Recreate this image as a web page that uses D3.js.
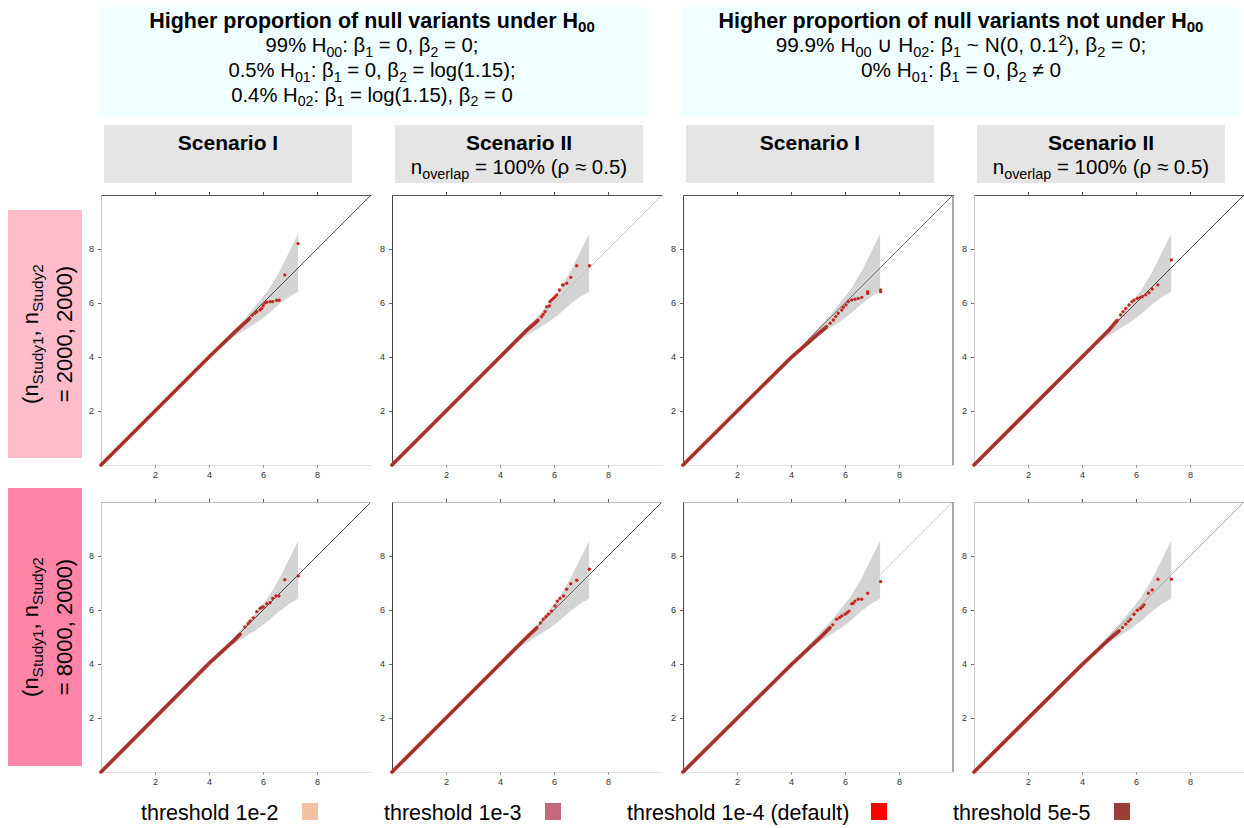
<!DOCTYPE html>
<html lang="en">
<head>
<meta charset="utf-8">
<title>QQ plots by threshold</title>
<script src="https://d3js.org/d3.v7.min.js"></script>
<style>
  body { margin: 0; background: #fff; }
  text { font-family: "Liberation Sans", Arial, Helvetica, sans-serif; }
</style>
</head>
<body>
<script>
// --- data ---------------------------------------------------------------
var tickValues = [2, 4, 6, 8];

// expected quantiles of the grey band, with its lower and upper limits
var bandExpected = [4.6, 5.0, 5.4, 5.8, 6.2, 6.6, 7.0, 7.3];
var bandLower    = [4.55, 4.8, 5.05, 5.3, 5.6, 5.95, 6.25, 6.42];
var bandUpper    = [4.65, 5.07, 5.5, 5.98, 6.48, 7.15, 7.95, 8.56];

// dense body of each QQ curve (expected, observed), row by row
var bulk = [
  [[0,0],[4,4],[5,4.97],[5.5,5.42]],
  [[0,0],[4,4],[5,5.0],[5.4,5.35]],
  [[0,0],[4,3.98],[5,4.85],[5.3,5.1]],
  [[0,0],[4,4],[5,5.0],[5.3,5.35]],
  [[0,0],[4,4.02],[4.9,4.85],[5.15,5.1]],
  [[0,0],[4,4],[5,5],[5.36,5.34]],
  [[0,0],[4,3.97],[5.07,4.97],[5.44,5.34]],
  [[0,0],[4,3.98],[5.0,4.91],[5.37,5.22]]
];

// sparse tail points of each QQ curve (expected, observed)
var tail = [
  [[5.6,5.55],[5.7,5.62],[5.77,5.68],[5.89,5.74],[5.95,5.8],[6.01,5.9],[6.07,6.0],[6.14,6.03],[6.26,6.05],[6.36,6.05],[6.5,6.1],[6.6,6.1],[6.81,7.04],[7.3,8.2]],
  [[5.54,5.49],[5.6,5.58],[5.67,5.68],[5.73,5.86],[5.83,5.89],[5.85,6.05],[5.91,6.11],[5.98,6.17],[6.04,6.23],[6.1,6.3],[6.2,6.48],[6.32,6.67],[6.34,6.67],[6.47,6.73],[6.62,6.95],[6.84,7.38],[7.31,7.38]],
  [[5.32,5.12],[5.45,5.25],[5.57,5.37],[5.66,5.5],[5.75,5.62],[5.88,5.74],[5.94,5.84],[6.04,5.93],[6.12,6.05],[6.25,6.11],[6.37,6.14],[6.49,6.17],[6.62,6.21],[6.84,6.36],[6.84,6.42],[7.32,6.42],[7.32,6.48]],
  [[5.43,5.56],[5.52,5.68],[5.62,5.8],[5.74,5.93],[5.85,6.05],[5.93,6.11],[6.05,6.17],[6.15,6.2],[6.23,6.23],[6.36,6.3],[6.48,6.38],[6.6,6.52],[6.81,6.67],[7.31,7.59]],
  [[5.33,5.37],[5.45,5.5],[5.52,5.59],[5.64,5.71],[5.77,5.94],[5.89,6.06],[5.95,6.1],[6.01,6.11],[6.14,6.23],[6.26,6.27],[6.36,6.43],[6.48,6.52],[6.59,6.52],[6.81,7.12],[7.31,7.26]],
  [[5.5,5.52],[5.6,5.66],[5.7,5.75],[5.79,5.84],[5.91,5.96],[6.04,6.15],[6.12,6.33],[6.22,6.43],[6.35,6.52],[6.47,6.77],[6.62,6.97],[6.84,7.1],[7.31,7.51]],
  [[5.55,5.45],[5.69,5.66],[5.8,5.72],[5.88,5.78],[6.0,5.84],[6.08,5.9],[6.15,5.96],[6.25,6.23],[6.3,6.25],[6.37,6.33],[6.49,6.4],[6.62,6.4],[6.84,6.62],[7.32,7.05]],
  [[5.5,5.35],[5.62,5.47],[5.72,5.58],[5.8,5.66],[5.93,5.84],[6.05,5.99],[6.17,6.06],[6.24,6.12],[6.3,6.19],[6.46,6.62],[6.6,6.74],[6.81,7.14],[7.31,7.14]]
];

var legendLabels = ["threshold 1e-2", "threshold 1e-3", "threshold 1e-4 (default)", "threshold 5e-5"];
var legendColors = ["#f0c2a2", "#c26a7b", "#ff0000", "#9b3f35"];

// rich text lines: [text, "" | "sub" | "sup"]
var headerLeft = [
  [["Higher proportion of null variants under H", ""], ["00", "sub"]],
  [["99% H", ""], ["00", "sub"], [": β", ""], ["1", "sub"], [" = 0, β", ""], ["2", "sub"], [" = 0;", ""]],
  [["0.5% H", ""], ["01", "sub"], [": β", ""], ["1", "sub"], [" = 0, β", ""], ["2", "sub"], [" = log(1.15);", ""]],
  [["0.4% H", ""], ["02", "sub"], [": β", ""], ["1", "sub"], [" = log(1.15), β", ""], ["2", "sub"], [" = 0", ""]]
];
var headerRight = [
  [["Higher proportion of null variants not under H", ""], ["00", "sub"]],
  [["99.9% H", ""], ["00", "sub"], [" ∪ H", ""], ["02", "sub"], [": β", ""], ["1", "sub"], [" ~ N(0, 0.1", ""], ["2", "sup"], ["), β", ""], ["2", "sub"], [" = 0;", ""]],
  [["0% H", ""], ["01", "sub"], [": β", ""], ["1", "sub"], [" = 0, β", ""], ["2", "sub"], [" ≠ 0", ""]]
];
var scenarioTitles = ["Scenario I", "Scenario II", "Scenario I", "Scenario II"];
var overlapLine = [["n", ""], ["overlap", "sub"], [" = 100% (ρ ≈ 0.5)", ""]];
var rowLabels = [
  [[["(n", ""], ["Study1", "sub"], [", n", ""], ["Study2", "sub"]], [["= 2000, 2000)", ""]]],
  [[["(n", ""], ["Study1", "sub"], [", n", ""], ["Study2", "sub"]], [["= 8000, 2000)", ""]]]
];

// --- layout -------------------------------------------------------------
var W = 1244, H = 828;
var size = 270;
var colX = [101, 392, 683, 974];
var rowY = [195, 502];

var svg = d3.select("body").append("svg")
  .attr("width", W).attr("height", H);

function richText(g, x, y, parts, fs, bold) {
  var t = g.append("text")
    .attr("x", x).attr("y", y)
    .attr("text-anchor", "middle")
    .attr("font-size", fs)
    .attr("font-weight", bold ? "bold" : "normal")
    .attr("fill", "#000");
  var shift = 0;
  parts.forEach(function(p) {
    var target = p[1] === "sub" ? fs * 0.22 : (p[1] === "sup" ? -fs * 0.36 : 0);
    var ts = t.append("tspan").text(p[0]).attr("dy", target - shift);
    if (p[1]) ts.attr("font-size", fs * 0.7);
    shift = target;
  });
  return t;
}

// header boxes
svg.append("rect").attr("x", 99).attr("y", 7).attr("width", 550).attr("height", 109).attr("fill", "#f0ffff");
svg.append("rect").attr("x", 682).attr("y", 7).attr("width", 558).attr("height", 109).attr("fill", "#f0ffff");
headerLeft.forEach(function(line, i) {
  richText(svg, 372, 27.5 + i * 24.8, line, i === 0 ? 21.5 : 20.3, i === 0);
});
headerRight.forEach(function(line, i) {
  richText(svg, 961, 27.5 + i * 24.8, line, i === 0 ? 21.5 : 20.8, i === 0);
});

// scenario strips
scenarioTitles.forEach(function(s, j) {
  var bx = colX[j] + 3;
  svg.append("rect").attr("x", bx).attr("y", 125).attr("width", 248).attr("height", 58).attr("fill", "#e5e5e5");
  richText(svg, bx + 124, 150, [[s, ""]], 21, true);
  if (j % 2 === 1) richText(svg, bx + 124, 174, overlapLine, 20.5, false);
});

// row strips
var rowFill = ["#ffbccb", "#ff85a8"];
var rowBox = [[210, 248], [488, 278]];
rowLabels.forEach(function(lines, r) {
  svg.append("rect").attr("x", 8).attr("y", rowBox[r][0]).attr("width", 74).attr("height", rowBox[r][1]).attr("fill", rowFill[r]);
  var cy = rowBox[r][0] + rowBox[r][1] / 2;
  var g = svg.append("g").attr("transform", "translate(45," + cy + ") rotate(-90)");
  richText(g, 0, -7, lines[0], 22, false);
  richText(g, 0, 27, lines[1], 22, false);
});

// panel styles
var diagColor = [["#222", "#bbb", "#555", "#222"], ["#222", "#444", "#ccc", "#999"]];
var leftColor = ["#c8c8c8", "#444", "#444", "#c8c8c8"];
var topColor = ["#555", "#bbb"];

var band = bandExpected.map(function(e, i) { return [e, bandLower[i], bandUpper[i]]; });

for (var r = 0; r < 2; r++) {
  for (var c = 0; c < 4; c++) {
    var k = r * 4 + c;
    var x = d3.scaleLinear().domain([0, 10]).range([colX[c], colX[c] + size]);
    var y = d3.scaleLinear().domain([0, 10]).range([rowY[r] + size, rowY[r]]);
    var g = svg.append("g");

    // band
    g.append("path").datum(band)
      .attr("d", d3.area()
        .x(function(d) { return x(d[0]); })
        .y0(function(d) { return y(d[1]); })
        .y1(function(d) { return y(d[2]); }))
      .attr("fill", "#d4d4d4");

    // diagonal
    g.append("line")
      .attr("x1", x(0)).attr("y1", y(0)).attr("x2", x(10)).attr("y2", y(10))
      .attr("stroke", diagColor[r][c]).attr("stroke-width", 0.8);

    // axes
    var axTop = g.append("g").attr("transform", "translate(0," + y(10) + ")")
      .call(d3.axisTop(x).tickValues(tickValues).tickSize(3).tickSizeOuter(0).tickFormat(""));
    axTop.select(".domain").attr("stroke", topColor[r]);
    axTop.selectAll(".tick line").attr("stroke", "#555");

    var axLeft = g.append("g").attr("transform", "translate(" + x(0) + ",0)")
      .call(d3.axisLeft(y).tickValues(tickValues).tickSize(3).tickSizeOuter(0).tickPadding(4));
    axLeft.select(".domain").attr("stroke", leftColor[c]);
    axLeft.selectAll(".tick line").attr("stroke", "#666");
    axLeft.selectAll(".tick text").attr("font-size", 9).attr("fill", "#333")
      .attr("font-family", "'Liberation Sans', Arial, sans-serif");

    var axBottom = g.append("g").attr("transform", "translate(0," + y(0) + ")")
      .call(d3.axisBottom(x).tickValues(tickValues).tickSize(3).tickSizeOuter(0).tickPadding(4));
    axBottom.select(".domain").attr("stroke", "#e2e2e2");
    axBottom.selectAll(".tick line").attr("stroke", "#999");
    axBottom.selectAll(".tick text").attr("font-size", 9).attr("fill", "#333")
      .attr("font-family", "'Liberation Sans', Arial, sans-serif");

    if (c === 2) {
      g.append("line")
        .attr("x1", x(10)).attr("y1", y(0)).attr("x2", x(10)).attr("y2", y(10))
        .attr("stroke", "#555");
    }

    // dense body
    var line = d3.line().x(function(d) { return x(d[0]); }).y(function(d) { return y(d[1]); });
    g.append("path").datum(bulk[k]).attr("d", line)
      .attr("fill", "none").attr("stroke", "#d9342b").attr("stroke-width", 3.8).attr("stroke-linecap", "round");
    g.append("path").datum(bulk[k]).attr("d", line)
      .attr("fill", "none").attr("stroke", "#93372e").attr("stroke-width", 2.4).attr("stroke-linecap", "round");

    // tail points
    g.selectAll("circle.under").data(tail[k]).enter().append("circle")
      .attr("class", "under")
      .attr("cx", function(d) { return x(d[0]); })
      .attr("cy", function(d) { return y(d[1]); })
      .attr("r", 1.7).attr("fill", "#ee2a22");
    g.selectAll("circle.over").data(tail[k]).enter().append("circle")
      .attr("class", "over")
      .attr("cx", function(d) { return x(d[0]); })
      .attr("cy", function(d) { return y(d[1]); })
      .attr("r", 1.1).attr("fill", "#93372e");
  }
}

// legend
var legendX = [141, 384, 627, 953];
var swatchX = [302, 545, 871, 1114];
legendLabels.forEach(function(lab, i) {
  svg.append("text").attr("x", legendX[i]).attr("y", 820)
    .attr("font-size", 21.5).attr("fill", "#000").text(lab);
  svg.append("rect").attr("x", swatchX[i]).attr("y", 803).attr("width", 16).attr("height", 17)
    .attr("fill", legendColors[i]);
});
</script>
</body>
</html>
